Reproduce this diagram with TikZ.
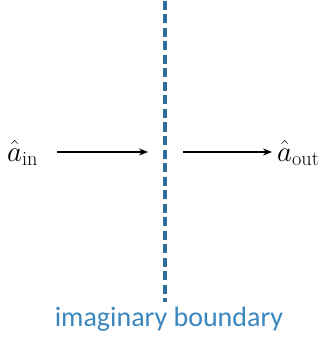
\documentclass[tikz,border=0pt]{standalone}
\usepackage{fix-cm}
\usepackage{fontspec}
\newfontfamily\carlito{Carlito}
\usetikzlibrary{arrows.meta}
\definecolor{bnd}{HTML}{2E6C9C}
\definecolor{bndtext}{HTML}{3A86BE}
\tikzset{
  flow/.style={-{Stealth[length=9pt,width=7pt]}, line width=1.4pt, black},
  boundary/.style={draw=bnd, line width=3.8pt, dash pattern=on 9pt off 4.5pt},
  lbl/.style={inner sep=0pt, font=\fontsize{29}{33}\selectfont}
}
\begin{document}
\begin{tikzpicture}[x=1pt,y=-1pt]
\useasboundingbox (0,0) rectangle (322,339);
\coordinate (top) at (165,1);
\coordinate (bot) at (165,302);
\draw[boundary] (top) -- (bot);
\node[lbl, anchor=base west] (ain) at (7,161) {$\hat{a}_{\mathrm{in}}$};
\node[lbl, anchor=base west] (aout) at (277,161) {$\hat{a}_{\mathrm{out}}$};
\coordinate (l1) at (57,152);
\coordinate (l2) at (148,152);
\coordinate (r1) at (183,152);
\coordinate (r2) at (272,152);
\draw[flow] (l1) -- (l2);
\draw[flow] (r1) -- (r2);
\node[inner sep=0pt, anchor=base, text=bndtext, font=\carlito\fontsize{28}{32}\selectfont] (cap) at (169,326) {imaginary boundary};
\end{tikzpicture}
\end{document}
